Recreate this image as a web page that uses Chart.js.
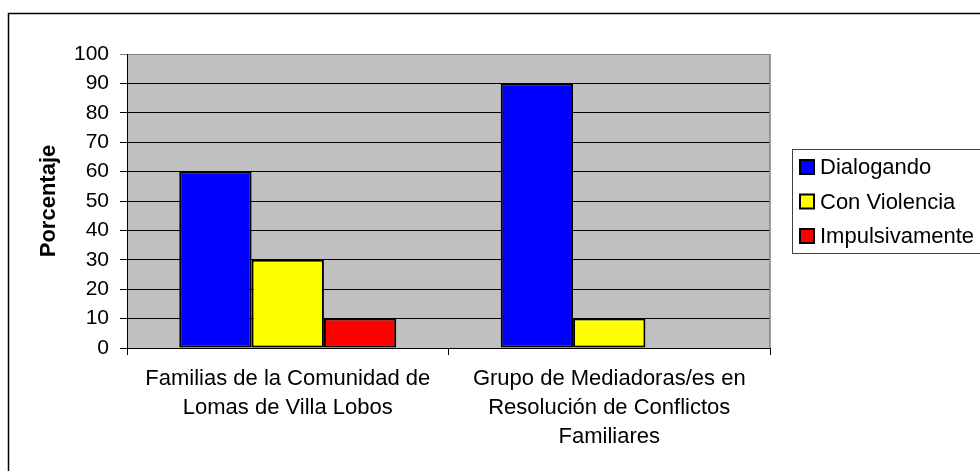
<!DOCTYPE html>
<html>
<head>
<meta charset="utf-8">
<title>Porcentaje</title>
<script src="https://cdn.jsdelivr.net/npm/chart.js@4/dist/chart.umd.min.js"></script>
<style>
  html, body { margin: 0; padding: 0; background: #fff; }
  #chart { display: block; }
</style>
</head>
<body>
<canvas id="chart" width="980" height="471"></canvas>
<script>
const categories = [
  ["Familias de la Comunidad de", "Lomas de Villa Lobos"],
  ["Grupo de Mediadoras/es en", "Resolución de Conflictos", "Familiares"]
];
const seriesNames = ["Dialogando", "Con Violencia", "Impulsivamente"];
const dialogando = [60, 90];
const conViolencia = [30, 10];
const impulsivamente = [10, 0];
const seriesColors = ["#0000FF", "#FFFF00", "#FF0000"];

const fontFamily = "'Liberation Sans', Arial, sans-serif";
const fontSize = 22;

// gray plot background, plot frame, legend and the outer chart border
const frame = {
  id: 'frame',
  beforeDraw(chart) {
    const { ctx, chartArea: a } = chart;
    ctx.save();
    ctx.fillStyle = '#C0C0C0';
    ctx.fillRect(a.left, a.top, a.right - a.left, a.bottom - a.top);
    ctx.restore();
  },
  afterDraw(chart) {
    const { ctx, chartArea: a } = chart;
    ctx.save();
    ctx.strokeStyle = '#808080';
    ctx.lineWidth = 1.5;
    ctx.beginPath();
    ctx.moveTo(a.right, a.top);
    ctx.lineTo(a.right, a.bottom);
    ctx.stroke();

    ctx.strokeStyle = '#000';
    ctx.lineWidth = 1.5;
    ctx.strokeRect(8.5, 13.5, 1000, 500);

    // legend box
    const lx = 792.5, ly = 149.5;
    ctx.fillStyle = '#fff';
    ctx.fillRect(lx, ly, 200, 104);
    ctx.strokeStyle = '#404040';
    ctx.lineWidth = 1;
    ctx.strokeRect(lx, ly, 200, 104);
    ctx.font = fontSize + 'px ' + fontFamily;
    ctx.textBaseline = 'middle';
    chart.data.datasets.forEach((ds, i) => {
      const cy = 167 + i * 34.5;
      ctx.fillStyle = ds.backgroundColor;
      ctx.fillRect(800, cy - 7, 14, 14);
      ctx.strokeStyle = '#000';
      ctx.lineWidth = 2;
      ctx.strokeRect(800, cy - 7, 14, 14);
      ctx.fillStyle = '#000';
      ctx.fillText(ds.label, 820, cy + 1);
    });
    ctx.restore();
  }
};

new Chart(document.getElementById('chart'), {
  type: 'bar',
  data: {
    labels: categories,
    datasets: [
      { label: seriesNames[0], data: dialogando, backgroundColor: seriesColors[0] },
      { label: seriesNames[1], data: conViolencia, backgroundColor: seriesColors[1] },
      { label: seriesNames[2], data: impulsivamente, backgroundColor: seriesColors[2] }
    ]
  },
  options: {
    responsive: false,
    animation: false,
    devicePixelRatio: 1,
    layout: { padding: { top: 54, right: 210, bottom: 0, left: 36 } },
    datasets: {
      bar: {
        borderColor: '#000',
        borderWidth: 2,
        borderSkipped: false,
        categoryPercentage: 0.675,
        barPercentage: 1
      }
    },
    plugins: {
      legend: { display: false },
      tooltip: { enabled: false },
      title: { display: false }
    },
    scales: {
      x: {
        offset: true,
        afterFit(scale) { scale.height = 123; },
        grid: {
          offset: true,
          drawOnChartArea: false,
          color: '#000',
          tickLength: 7
        },
        border: { color: '#000', width: 1 },
        ticks: {
          color: '#000',
          maxRotation: 0,
          autoSkip: false,
          padding: 9,
          font: { family: fontFamily, size: fontSize, lineHeight: 1.32 }
        }
      },
      y: {
        min: 0,
        max: 100,
        afterFit(scale) { scale.width = 91; },
        grid: {
          color: ctx => ctx.tick && ctx.tick.value === 100 ? '#808080' : '#000',
          tickLength: 7,
          drawTicks: true
        },
        border: { color: '#000', width: 1 },
        ticks: {
          stepSize: 10,
          color: '#000',
          padding: 11,
          font: { family: fontFamily, size: 21 }
        },
        title: {
          display: true,
          text: 'Porcentaje',
          color: '#000',
          padding: { top: 0, bottom: 0 },
          font: { family: fontFamily, size: fontSize, weight: 'bold' }
        }
      }
    }
  },
  plugins: [frame]
});
</script>
</body>
</html>
